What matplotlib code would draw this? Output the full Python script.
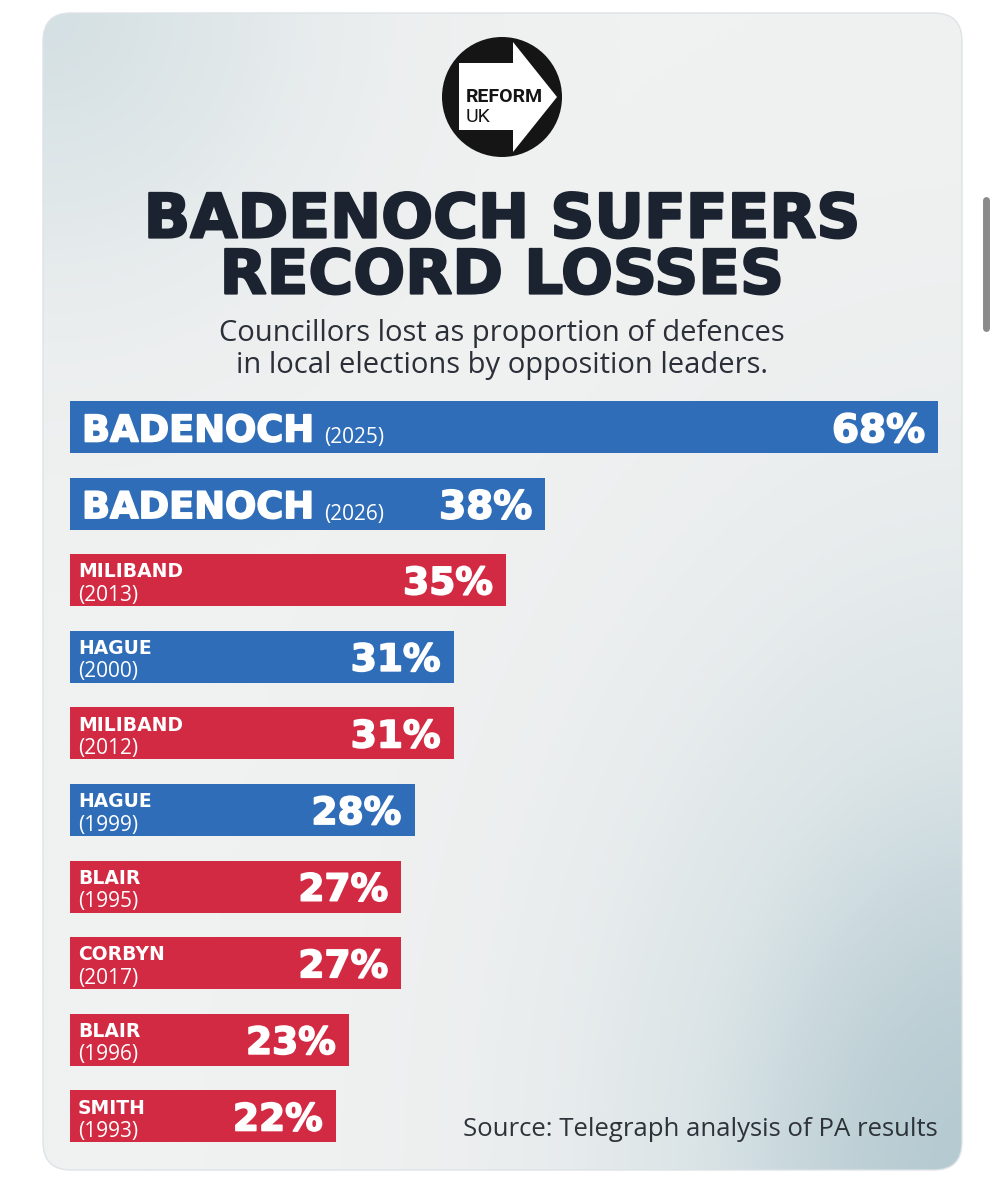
import numpy as np
import matplotlib
matplotlib.use("Agg")
import matplotlib.pyplot as plt
from matplotlib.patches import FancyBboxPatch, Circle, Polygon
from matplotlib.colors import LinearSegmentedColormap
import matplotlib.patheffects as pe

# ---------------- data ----------------
leaders = ["BADENOCH", "BADENOCH", "MILIBAND", "HAGUE", "MILIBAND",
           "HAGUE", "BLAIR", "CORBYN", "BLAIR", "SMITH"]
years = ["2025", "2026", "2013", "2000", "2012", "1999", "1995", "2017", "1996", "1993"]
losses = [68, 38, 35, 31, 31, 28, 27, 27, 23, 22]
party = ["Con", "Con", "Lab", "Con", "Lab", "Con", "Lab", "Lab", "Lab", "Lab"]
party_colors = {"Con": "#2f6db8", "Lab": "#d32a43"}

title_lines = ["BADENOCH SUFFERS", "RECORD LOSSES"]
subtitle_lines = ["Councillors lost as proportion of defences",
                  "in local elections by opposition leaders."]
source = "Source: Telegraph analysis of PA results"

HEAVY = "DejaVu Sans"
LIGHT = "Open Sans"
TXT = "#1b2230"

fig = plt.figure(figsize=(10, 12), dpi=100)
fig.patch.set_facecolor("white")

# ---------------- background / card ----------------
bg = fig.add_axes([0, 0, 1, 1])
bg.set_xlim(0, 1000)
bg.set_ylim(1200, 0)
bg.axis("off")

card = FancyBboxPatch((43, 13), 919, 1157, boxstyle="round,pad=0,rounding_size=28",
                      facecolor="none", edgecolor="#dde3e6", lw=1, zorder=1)
bg.add_patch(card)
yy, xx = np.mgrid[13:1170:400j, 43:962:320j]
tl = 0.55 * np.exp(-(((xx - 43) / 260) ** 2 + ((yy - 13) / 260) ** 2))
br = np.exp(-(((xx - 980) / 330) ** 2 + ((yy - 1190) / 520) ** 2))
t = np.clip(np.maximum(tl, br), 0, 1)
cmap = LinearSegmentedColormap.from_list("g", ["#f0f1f1", "#d9e3e6", "#b5cad1"])
im = bg.imshow(t, extent=(43, 962, 1170, 13), cmap=cmap, vmin=0, vmax=1,
               aspect="auto", zorder=0, interpolation="bilinear")
im.set_clip_path(card)

# scrollbar
bg.plot([986, 986], [200, 328], color="#8a8a8a", lw=5, solid_capstyle="round", zorder=2)

# ---------------- logo ----------------
bg.add_patch(Circle((502, 97), 60, facecolor="#151515", edgecolor="none", zorder=3))
bg.add_patch(Polygon([(459, 63), (513, 63), (513, 42), (557, 97), (513, 152),
                      (513, 130), (459, 130)], closed=True, facecolor="white",
                     edgecolor="none", zorder=4))
bg.text(466, 97, "REFORM", fontsize=14, fontweight="bold", family="Roboto",
        color="#151515", ha="left", va="center", zorder=5)
bg.text(466, 117, "UK", fontsize=14, family="Roboto", color="#151515",
        ha="left", va="center", zorder=5)

# ---------------- titles ----------------
thick_dark = [pe.withStroke(linewidth=1.6, foreground=TXT)]
thick_white = [pe.withStroke(linewidth=1.2, foreground="white")]
bg.text(502, 221, title_lines[0], fontsize=44, fontweight="bold", family=HEAVY,
        color=TXT, ha="center", va="center", zorder=5, path_effects=thick_dark)
bg.text(502, 277, title_lines[1], fontsize=44, fontweight="bold", family=HEAVY,
        color=TXT, ha="center", va="center", zorder=5, path_effects=thick_dark)
bg.text(502, 333, subtitle_lines[0], fontsize=21, family=LIGHT, color="#2a2f38",
        ha="center", va="center", zorder=5)
bg.text(502, 366, subtitle_lines[1], fontsize=21, family=LIGHT, color="#2a2f38",
        ha="center", va="center", zorder=5)
bg.text(938, 1130, source, fontsize=18.5, family=LIGHT, color="#2d3338",
        ha="right", va="center", zorder=5)

# ---------------- bars ----------------
top_px, bot_px = 388.7, 1154.8
ax = fig.add_axes([70 / 1000, 1 - bot_px / 1200, 900 / 1000, (bot_px - top_px) / 1200])
ax.patch.set_alpha(0)
ax.axis("off")
pos = np.arange(len(losses))
ax.barh(pos, losses, height=52 / 76.6, color=[party_colors[p] for p in party], zorder=3)
ax.set_xlim(1.68, 70.43)
ax.set_ylim(len(losses) - 0.5, -0.5)

ytr = ax.get_yaxis_transform()
for i, (name, yr, v) in enumerate(zip(leaders, years, losses)):
    if i < 2:
        t1 = ax.text(12 / 900, i, name, transform=ytr, fontsize=26.5, fontweight="bold",
                     family=HEAVY, color="white", ha="left", va="center_baseline",
                     zorder=5, path_effects=thick_white)
        ax.annotate(f"({yr})", xy=(1, 0), xycoords=t1, xytext=(7, 1),
                    textcoords="offset points", fontsize=15, family=LIGHT,
                    color="white", ha="left", va="bottom", zorder=5)
        fs = 28
    else:
        ax.annotate(name, xy=(8 / 900, i), xycoords=ytr, xytext=(0, 7.5),
                    textcoords="offset points", fontsize=13.5, fontweight="bold",
                    family=HEAVY, color="white", ha="left", va="center_baseline", zorder=5)
        ax.annotate(f"({yr})", xy=(8 / 900, i), xycoords=ytr, xytext=(0, -9),
                    textcoords="offset points", fontsize=15, family=LIGHT,
                    color="white", ha="left", va="center_baseline", zorder=5)
        fs = 27
    ax.annotate(f"{v}%", xy=(v, i), xytext=(-9.5, 0), textcoords="offset points",
                fontsize=fs, fontweight="bold", family=HEAVY, color="white",
                ha="right", va="center_baseline", zorder=5, path_effects=thick_white)

fig.savefig("out.png", dpi=100)
